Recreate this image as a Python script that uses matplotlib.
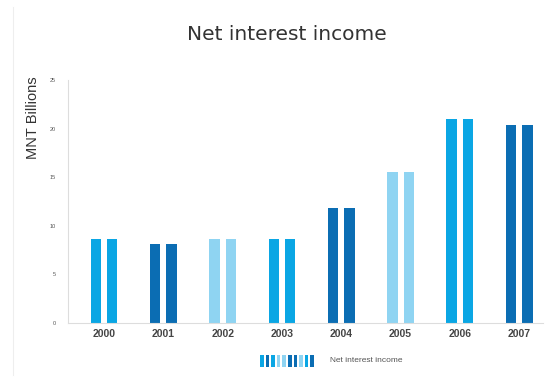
import numpy as np
import matplotlib.pyplot as plt
from matplotlib.lines import Line2D

plt.rcParams['font.family'] = ['Liberation Sans', 'DejaVu Sans']

# Net interest income, MNT billions
years = ['2000', '2001', '2002', '2003', '2004', '2005', '2006', '2007']
income = [8.6, 8.1, 8.6, 8.6, 11.8, 15.5, 21.0, 20.4]
yticks = [0, 5, 10, 15, 20, 25]

MED = '#0aa6e4'
DARK = '#0b6db3'
LIGHT = '#8fd4f2'
bar_colors = [MED, DARK, LIGHT, MED, DARK, LIGHT, MED, DARK]
swatch_colors = [MED, DARK, MED, LIGHT, LIGHT, DARK, DARK, LIGHT, MED, DARK]

fig = plt.figure(figsize=(5.45, 3.87), dpi=100)
ax = fig.add_axes([0.1248, 0.1654, 0.8715, 0.628])

x = np.arange(len(years))
w = 0.178
off = 0.138
# every year is drawn as a twin bar of the same value
ax.bar(x - off, income, width=w, color=bar_colors, linewidth=0)
ax.bar(x + off, income, width=w, color=bar_colors, linewidth=0)

ax.set_xlim(-0.607, 7.40)
ax.set_ylim(0, 25)
ax.set_yticks(yticks)
ax.set_yticklabels([str(t) for t in yticks], fontsize=4, color='#555555')
ax.set_xticks(x)
ax.set_xticklabels(years, fontsize=7.5, fontweight='bold', color='#454545')
ax.tick_params(axis='both', length=0)
ax.tick_params(axis='y', pad=9)
ax.tick_params(axis='x', pad=4)

for side in ['top', 'right']:
    ax.spines[side].set_visible(False)
for side in ['left', 'bottom']:
    ax.spines[side].set_color('#dddddd')
    ax.spines[side].set_linewidth(0.8)

fig.text(0.527, 1 - 35 / 387, 'Net interest income', ha='center', va='center',
         fontsize=14.5, color='#333333', family='DejaVu Sans')
fig.text(33 / 545, 1 - 118 / 387, 'MNT Billions', rotation=90, ha='center',
         va='center', fontsize=10.5, color='#333333')

# faint frame line on the left
fig.add_artist(Line2D([13 / 545, 13 / 545], [1 - 375 / 387, 1 - 7 / 387],
                      transform=fig.transFigure, color='#eeeeee', lw=0.8))

# striped legend swatch
lax = fig.add_axes([259 / 545, 1 - 367 / 387, 56 / 545, 12 / 387])
lax.bar(np.arange(len(swatch_colors)), [1] * len(swatch_colors), width=0.65,
        color=swatch_colors, linewidth=0)
lax.set_xlim(-0.5, len(swatch_colors) - 0.5)
lax.set_ylim(0, 1)
lax.axis('off')
fig.text(330 / 545, 1 - 360 / 387, 'Net interest income', ha='left', va='center',
         fontsize=6, color='#555555')

fig.savefig('out.png', dpi=100)
